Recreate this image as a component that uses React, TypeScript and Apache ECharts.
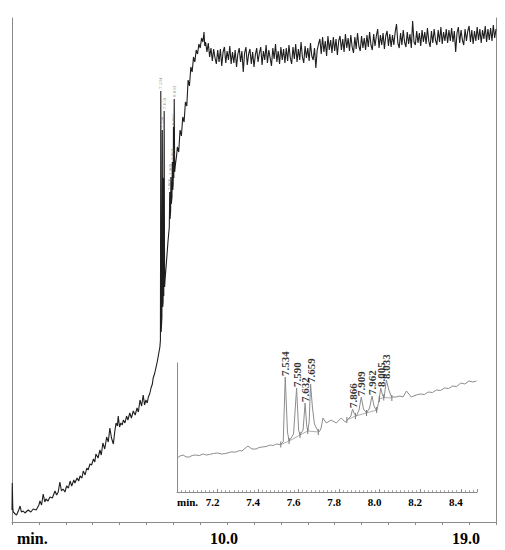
import React, { useEffect, useRef } from "react";
import * as echarts from "echarts";

// ---------- main chromatogram (time in min, signal in arbitrary units) ----------
const mainRise: [number, number][] = [
  [2.0, 12], [2.01, 39], [2.03, 14], [2.05, 10], [2.12, 8], [2.17, 7], [2.25, 12], [2.3, 16],
  [2.35, 10], [2.42, 11], [2.48, 9], [2.6, 12], [2.7, 10], [2.79, 13], [2.9, 12], [3.0, 17],
  [3.04, 21], [3.1, 17], [3.16, 28], [3.22, 20], [3.26, 23], [3.34, 21], [3.41, 25], [3.5, 24],
  [3.6, 31], [3.66, 27], [3.72, 30], [3.78, 40], [3.84, 31], [3.9, 33], [3.97, 30], [4.03, 36],
  [4.1, 34], [4.16, 41], [4.22, 36], [4.3, 42], [4.34, 39], [4.42, 44], [4.48, 41], [4.53, 46],
  [4.6, 44], [4.65, 51], [4.72, 47], [4.78, 54], [4.83, 52], [4.9, 58], [4.96, 57], [5.03, 63],
  [5.08, 60], [5.12, 68], [5.2, 64], [5.27, 72], [5.32, 67], [5.38, 79], [5.45, 73], [5.52, 85],
  [5.58, 80], [5.64, 94], [5.7, 84], [5.77, 78], [5.82, 90], [5.87, 99], [5.92, 96], [5.95, 106],
  [6.0, 95], [6.05, 99], [6.1, 97], [6.14, 102], [6.2, 99], [6.26, 106], [6.31, 102], [6.38, 109],
  [6.44, 104], [6.51, 111], [6.58, 107], [6.65, 114], [6.7, 110], [6.76, 122], [6.82, 116],
  [6.88, 127], [6.93, 117], [6.98, 122], [7.03, 119], [7.07, 125], [7.12, 128], [7.17, 134],
  [7.22, 138], [7.25, 144], [7.3, 148], [7.35, 154], [7.4, 160], [7.44, 166], [7.5, 175],
];
const mainPeakZone: [number, number][] = [
  [7.52, 182], [7.534, 431], [7.548, 190], [7.575, 205], [7.59, 392], [7.605, 215], [7.62, 220],
  [7.632, 344], [7.645, 226], [7.659, 411], [7.675, 235], [7.7, 245], [7.75, 262], [7.8, 280],
  [7.85, 295], [7.866, 330], [7.88, 303], [7.9, 312], [7.909, 345], [7.925, 318], [7.95, 325],
  [7.962, 360], [7.98, 332], [7.995, 338], [8.005, 395], [8.018, 344], [8.033, 423], [8.05, 350],
  [8.08, 358], [8.12, 366], [8.15, 375], [8.2, 370], [8.25, 392], [8.3, 386], [8.35, 405],
  [8.4, 400], [8.45, 420], [8.5, 416], [8.55, 442], [8.6, 436], [8.65, 455], [8.7, 450],
  [8.75, 465], [8.8, 460], [8.85, 472], [8.9, 468], [8.95, 478], [9.0, 474], [9.05, 484],
  [9.1, 480], [9.14, 490], [9.17, 476],
];
const plateauStart = 9.2;
const plateauStep = 0.05;
const plateauValues: number[] = [
  480, 470, 479, 465, 474, 461, 473, 464, 458, 472, 460, 473, 456, 470, 475, 459, 471, 462, 476, 458,
  470, 459, 472, 455, 468, 474, 460, 471, 450, 469, 475, 457, 468, 473, 458, 470, 455, 467, 474, 460,
  469, 475, 457, 471, 462, 477, 459, 472, 464, 456, 474, 463, 478, 460, 471, 458, 475, 462, 473, 459,
  474, 461, 477, 464, 458, 475, 463, 478, 460, 473, 462, 480, 465, 459, 476, 464, 474, 461, 479, 466,
  462, 474, 454, 472, 478, 483, 468, 485, 470, 481, 466, 486, 472, 482, 469, 485, 471, 483, 467, 481,
  486, 472, 483, 470, 488, 474, 484, 471, 487, 475, 469, 485, 473, 489, 476, 471, 486, 474, 484, 472,
  487, 475, 490, 477, 472, 488, 476, 486, 493, 474, 487, 477, 489, 473, 486, 491, 476, 488, 475, 487,
  477, 490, 498, 479, 474, 489, 477, 492, 480, 475, 490, 478, 488, 474, 501, 480, 477, 491, 479, 489,
  476, 492, 480, 490, 478, 494, 481, 475, 491, 479, 493, 482, 477, 492, 480, 495, 478, 490, 481, 493,
  479, 492, 481, 494, 480, 491, 470, 489, 495, 479, 492, 482, 477, 493, 481, 491, 496, 480, 492, 478,
  491, 481, 495, 482, 493, 479, 492, 483, 496, 480, 493, 482, 494, 481, 497, 484, 493,
];
const peakTimes: number[] = [7.534, 7.59, 7.632, 7.659, 7.866, 7.909, 7.962, 8.005, 8.033];
const mainPeakHeights: number[] = [431, 392, 344, 411, 330, 345, 360, 395, 423];
const mainTickLabels: Record<number, string> = { 10: "10.0", 19: "19.0" };

// ---------- inset (zoom on 7.0 – 8.5 min) ----------
const insetTrace: [number, number][] = [
  [7.0, 34], [7.015, 36], [7.03, 37], [7.045, 35], [7.06, 35], [7.075, 36.5], [7.09, 37], [7.11, 36.5],
  [7.13, 38], [7.145, 37], [7.16, 37.5], [7.18, 38.5], [7.2, 39], [7.22, 38], [7.24, 38.5], [7.265, 40],
  [7.29, 40], [7.31, 41.5], [7.32, 41], [7.35, 46], [7.37, 43], [7.39, 43], [7.405, 44.5], [7.42, 45],
  [7.44, 45.5], [7.46, 47], [7.475, 46.5], [7.49, 48], [7.51, 47.5], [7.524, 50], [7.534, 115],
  [7.545, 60], [7.553, 51], [7.575, 58], [7.59, 104], [7.6, 62], [7.607, 57], [7.622, 62], [7.632, 89],
  [7.64, 66], [7.645, 61], [7.652, 70], [7.659, 108], [7.668, 85], [7.678, 68], [7.69, 63], [7.7, 60],
  [7.71, 63], [7.72, 74], [7.737, 69], [7.76, 72], [7.786, 69], [7.81, 74], [7.83, 70], [7.845, 73],
  [7.858, 76], [7.866, 83], [7.875, 78], [7.885, 76], [7.898, 82], [7.909, 95], [7.92, 83],
  [7.935, 79], [7.95, 84], [7.962, 96], [7.972, 86], [7.985, 81], [7.995, 90], [8.005, 104],
  [8.015, 96], [8.022, 95], [8.033, 112], [8.045, 102], [8.058, 95], [8.08, 95], [8.1, 96],
  [8.115, 95], [8.132, 101], [8.156, 95], [8.18, 97], [8.2, 98], [8.22, 97.5], [8.24, 100],
  [8.26, 99.5], [8.28, 102], [8.3, 101.5], [8.32, 104], [8.34, 103.5], [8.36, 106], [8.38, 105.5],
  [8.4, 109], [8.42, 108], [8.44, 111], [8.46, 110], [8.477, 111],
];
const insetPeakHeights: number[] = [115, 104, 89, 108, 83, 95, 96, 104, 112];
const insetBaselineA: [number, number][] = [[7.512, 47.5], [7.553, 51], [7.607, 57], [7.645, 61], [7.697, 60]];
const insetBaselineB: [number, number][] = [[7.838, 72], [7.88, 76], [7.935, 79], [7.985, 82]];
const insetBaselineC: [number, number][] = [[7.998, 93], [8.02, 94.5], [8.06, 94]];

const SERIF = "'Liberation Serif', 'Times New Roman', serif";

export default function App() {
  const ref = useRef<HTMLDivElement>(null);
  useEffect(() => {
    if (!ref.current) return;
    const chart = echarts.init(ref.current, null, { renderer: "svg" });
    const plateau: [number, number][] = plateauValues.map((v, i) => [
      +(plateauStart + i * plateauStep).toFixed(3),
      v,
    ]);
    const mainData = [...mainRise, ...mainPeakZone, ...plateau];
    const gray = "#8a8a8a";
    const baselineSeries = (data: [number, number][]) => ({
      type: "line",
      xAxisIndex: 1,
      yAxisIndex: 1,
      data,
      symbol: "rect",
      symbolSize: [1, 6],
      showSymbol: true,
      itemStyle: { color: "#777" },
      lineStyle: { color: "#999", width: 0.8 },
      silent: true,
      z: 3,
    });
    chart.setOption({
      animation: false,
      backgroundColor: "#fff",
      textStyle: { fontFamily: SERIF },
      grid: [
        { left: 12, right: 9, top: 18, bottom: 28 },
        { left: 177, right: 28, top: 363, bottom: 58 },
      ],
      xAxis: [
        {
          type: "value",
          gridIndex: 0,
          min: 2,
          max: 20,
          interval: 1,
          axisLine: { show: true, lineStyle: { color: gray, width: 1 } },
          axisTick: { show: true, length: 3, lineStyle: { color: gray } },
          splitLine: { show: false },
          axisLabel: {
            formatter: (v: number) => mainTickLabels[Math.round(v)] ?? "",
            fontFamily: SERIF,
            fontWeight: "bold",
            fontSize: 16,
            color: "#000",
            margin: 8,
            padding: [0, 6, 0, 0],
            showMinLabel: true,
            showMaxLabel: true,
          },
        },
        {
          type: "value",
          gridIndex: 1,
          min: 7.0,
          max: 8.48,
          interval: 0.2,
          axisLine: { show: true, lineStyle: { color: gray, width: 1 } },
          axisTick: { show: true, inside: true, length: 3, lineStyle: { color: gray } },
          minorTick: { show: true, splitNumber: 10, length: 2, lineStyle: { color: "#aaa" } },
          splitLine: { show: false },
          axisLabel: {
            formatter: (v: number) => {
              const k = Math.round(v * 10);
              if (Math.abs(v * 10 - k) > 1e-6 || k % 2 !== 0 || k <= 70) return "";
              return v.toFixed(1);
            },
            fontFamily: SERIF,
            fontWeight: "bold",
            fontSize: 11,
            color: "#000",
            margin: 4,
            padding: [0, 10, 0, 0],
          },
        },
      ],
      yAxis: [
        {
          type: "value",
          gridIndex: 0,
          min: 0,
          max: 504,
          axisLine: { show: true, lineStyle: { color: gray, width: 1 } },
          axisTick: { show: false },
          axisLabel: { show: false },
          splitLine: { show: false },
        },
        {
          type: "value",
          gridIndex: 1,
          min: 0,
          max: 129,
          axisLine: { show: true, lineStyle: { color: gray, width: 1 } },
          axisTick: { show: false },
          axisLabel: { show: false },
          splitLine: { show: false },
        },
        {
          type: "value",
          gridIndex: 0,
          position: "right",
          min: 0,
          max: 504,
          axisLine: { show: true, onZero: false, lineStyle: { color: gray, width: 1 } },
          axisTick: { show: false },
          axisLabel: { show: false },
          splitLine: { show: false },
        },
      ],
      series: [
        {
          type: "line",
          xAxisIndex: 0,
          yAxisIndex: 0,
          data: mainData,
          showSymbol: false,
          lineStyle: { color: "#1e1e1e", width: 1.1 },
          silent: true,
          z: 2,
        },
        {
          type: "scatter",
          xAxisIndex: 0,
          yAxisIndex: 0,
          data: peakTimes.map((t, i) => [t, mainPeakHeights[i]]),
          symbolSize: 0,
          silent: true,
          label: {
            show: true,
            position: "top",
            distance: 2,
            rotate: 90,
            align: "left",
            verticalAlign: "middle",
            formatter: (p: any) => p.value[0].toFixed(3),
            fontSize: 5,
            fontFamily: SERIF,
            color: "#666",
          },
        },
        {
          type: "line",
          xAxisIndex: 1,
          yAxisIndex: 1,
          data: insetTrace,
          showSymbol: false,
          lineStyle: { color: "#8c8c8c", width: 1 },
          silent: true,
          z: 2,
        },
        baselineSeries(insetBaselineA),
        baselineSeries(insetBaselineB),
        baselineSeries(insetBaselineC),
        {
          type: "scatter",
          xAxisIndex: 1,
          yAxisIndex: 1,
          data: peakTimes.map((t, i) => [t, insetPeakHeights[i]]),
          symbolSize: 0,
          silent: true,
          label: {
            show: true,
            position: "top",
            distance: 1,
            rotate: 90,
            align: "left",
            verticalAlign: "middle",
            formatter: (p: any) => p.value[0].toFixed(3),
            fontSize: 11,
            fontWeight: "bold",
            fontFamily: SERIF,
            color: "#000",
          },
        },
      ],
      graphic: [
        {
          type: "text",
          x: 17,
          y: 538,
          style: {
            text: "min.",
            font: `bold 16px ${SERIF}`,
            fill: "#000",
            verticalAlign: "middle",
          },
        },
        {
          type: "text",
          x: 177,
          y: 502,
          style: {
            text: "min.",
            font: `bold 11px ${SERIF}`,
            fill: "#000",
            verticalAlign: "middle",
          },
        },
      ],
    });
    return () => chart.dispose();
  }, []);
  return (
    <div
      ref={ref}
      style={{ position: "absolute", left: 0, top: 0, width: 505, height: 550 }}
    />
  );
}
